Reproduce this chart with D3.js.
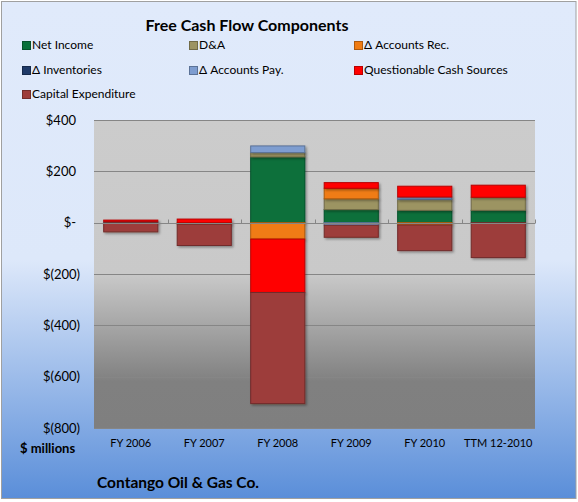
<!DOCTYPE html>
<html>
<head>
<meta charset="utf-8">
<script src="https://cdn.jsdelivr.net/npm/d3@7"></script>
<style>
  body { margin: 0; background: #fff; }
  svg text { font-family: Lato, "Open Sans", sans-serif; fill: #000; }
</style>
</head>
<body>
<script>
const categories = ['FY 2006', 'FY 2007', 'FY 2008', 'FY 2009', 'FY 2010', 'TTM 12-2010'];
const seriesNames = ['Net Income', 'D&A', '\u0394 Accounts Rec.', '\u0394 Inventories', '\u0394 Accounts Pay.', 'Questionable Cash Sources', 'Capital Expenditure'];
const seriesColors = ['#08703a', '#9c9462', '#f07c14', '#1f3a68', '#7e9dd0', '#ff0000', '#9d3c3a'];

const netIncome = [0, 0, 256, 51, 48, 48];
const depAmort = [0, 0, 17, 42, 42, 51];
const acctRec = [0, -6, -64, 41, -9, 0];
const inventories = [0, 0, 0, 0, 0, 0];
const acctPay = [5, 0, 26, -10, 10, 0];
const questionable = [5, 14, -208, 22, 42, 47];
const capex = [-36, -83, -433, -47, -100, -136];

const yTicks = [400, 200, 0, -200, -400, -600, -800];

const W = 578, H = 502;
const plot = {left: 94, right: 535, top: 120, bottom: 428};

const svg = d3.select('body').append('svg')
    .attr('width', W)
    .attr('height', H);

const defs = svg.append('defs');

const bg = defs.append('linearGradient').attr('id', 'bg').attr('x1', 0).attr('y1', 0).attr('x2', 0).attr('y2', 1);
bg.append('stop').attr('offset', '0%').attr('stop-color', '#e0eafb');
bg.append('stop').attr('offset', '52%').attr('stop-color', '#dde8fa');
bg.append('stop').attr('offset', '100%').attr('stop-color', '#5a8ed9');

const pg = defs.append('linearGradient').attr('id', 'pg').attr('x1', 0).attr('y1', 0).attr('x2', 0).attr('y2', 1);
pg.append('stop').attr('offset', '0%').attr('stop-color', '#cccccc');
pg.append('stop').attr('offset', '50%').attr('stop-color', '#c9c9c9');
pg.append('stop').attr('offset', '85%').attr('stop-color', '#808080');
pg.append('stop').attr('offset', '100%').attr('stop-color', '#7f7f7f');

const sh = defs.append('filter').attr('id', 'shadow')
    .attr('x', '-10%').attr('y', '-10%').attr('width', '130%').attr('height', '130%');
sh.append('feDropShadow')
    .attr('dx', 1.5).attr('dy', 1.5).attr('stdDeviation', 1)
    .attr('flood-color', '#000').attr('flood-opacity', 0.35);

// chart background
svg.append('rect')
    .attr('x', 1.5).attr('y', 1.5)
    .attr('width', W - 3.5).attr('height', H - 5)
    .attr('fill', 'url(#bg)')
    .attr('stroke', '#a0a0a0');

// plot area
svg.append('rect')
    .attr('x', plot.left).attr('y', plot.top)
    .attr('width', plot.right - plot.left).attr('height', plot.bottom - plot.top)
    .attr('fill', 'url(#pg)');

const x = d3.scaleBand()
    .domain(categories)
    .range([plot.left, plot.right])
    .paddingInner(0.25)
    .paddingOuter(0.125);

const y = d3.scaleLinear()
    .domain([-800, 400])
    .range([plot.bottom, plot.top]);

// gridlines
svg.append('g')
    .selectAll('line')
    .data(yTicks)
    .join('line')
    .attr('x1', plot.left).attr('x2', plot.right)
    .attr('y1', d => Math.round(y(d)) + 0.5)
    .attr('y2', d => Math.round(y(d)) + 0.5)
    .attr('stroke', '#868686')
    .attr('stroke-width', 1);

// y tick labels
const money = d => d === 0 ? '$-' : d < 0 ? '$(' + Math.abs(d) + ')' : '$' + d;
svg.append('g')
    .selectAll('text')
    .data(yTicks)
    .join('text')
    .attr('x', d => d < 0 ? 80 : 76)
    .attr('y', d => y(d))
    .attr('dy', '0.35em')
    .attr('text-anchor', 'end')
    .attr('font-size', 13)
    .text(money);

// stacked data
const table = categories.map((c, i) => ({
    cat: c,
    s0: netIncome[i], s1: depAmort[i], s2: acctRec[i], s3: inventories[i],
    s4: acctPay[i], s5: questionable[i], s6: capex[i]
}));
const keys = ['s0', 's1', 's2', 's3', 's4', 's5', 's6'];
const stacked = d3.stack().keys(keys).offset(d3.stackOffsetDiverging)(table);

const layers = svg.append('g').selectAll('g')
    .data(stacked)
    .join('g')
    .attr('fill', (d, i) => seriesColors[i])
    .attr('stroke', (d, i) => d3.color(seriesColors[i]).darker(0.9))
    .attr('filter', 'url(#shadow)');

layers.selectAll('rect')
    .data(d => d.filter(p => p[1] !== p[0]))
    .join('rect')
    .attr('x', p => x(p.data.cat) + 0.5)
    .attr('width', x.bandwidth() - 1)
    .attr('y', p => y(Math.max(p[0], p[1])))
    .attr('height', p => Math.abs(y(p[0]) - y(p[1])))
    .attr('stroke-width', 1);

// zero axis line and ticks
const zeroY = Math.round(y(0)) + 0.5;
svg.append('line')
    .attr('x1', plot.left).attr('x2', plot.right)
    .attr('y1', zeroY).attr('y2', zeroY)
    .attr('stroke', '#868686');
const step = (plot.right - plot.left) / categories.length;
svg.append('g').selectAll('line')
    .data(d3.range(1, categories.length + 1))
    .join('line')
    .attr('x1', i => Math.round(plot.left + i * step) + 0.5)
    .attr('x2', i => Math.round(plot.left + i * step) + 0.5)
    .attr('y1', zeroY - 4).attr('y2', zeroY)
    .attr('stroke', '#868686');

// x labels
svg.append('g').selectAll('text')
    .data(categories)
    .join('text')
    .attr('x', d => x(d) + x.bandwidth() / 2)
    .attr('y', 447)
    .attr('text-anchor', 'middle')
    .attr('font-size', 11)
    .text(d => d);

// titles
svg.append('text')
    .attr('x', 247).attr('y', 31)
    .attr('text-anchor', 'middle')
    .attr('font-size', 16)
    .attr('font-weight', 'bold')
    .text('Free Cash Flow Components');

svg.append('text')
    .attr('x', 20).attr('y', 453)
    .attr('font-size', 13)
    .attr('font-weight', 'bold')
    .text('$ millions');

svg.append('text')
    .attr('x', 97).attr('y', 488)
    .attr('font-size', 15.5)
    .attr('font-weight', 'bold')
    .text('Contango Oil & Gas Co.');

// legend
const legendCols = [22, 189, 354];
const legendRows = [45, 70, 94];
const legend = svg.append('g').selectAll('g')
    .data(seriesNames)
    .join('g')
    .attr('transform', (d, i) => `translate(${legendCols[i % 3]},${legendRows[Math.floor(i / 3)]})`);

legend.append('rect')
    .attr('x', 0.5).attr('y', -3.5)
    .attr('width', 8).attr('height', 8)
    .attr('fill', (d, i) => seriesColors[i])
    .attr('stroke', (d, i) => d3.color(seriesColors[i]).darker(0.9));

legend.append('text')
    .attr('x', 10).attr('y', 0)
    .attr('dy', '0.35em')
    .attr('font-size', 12)
    .text(d => d);
</script>
</body>
</html>
